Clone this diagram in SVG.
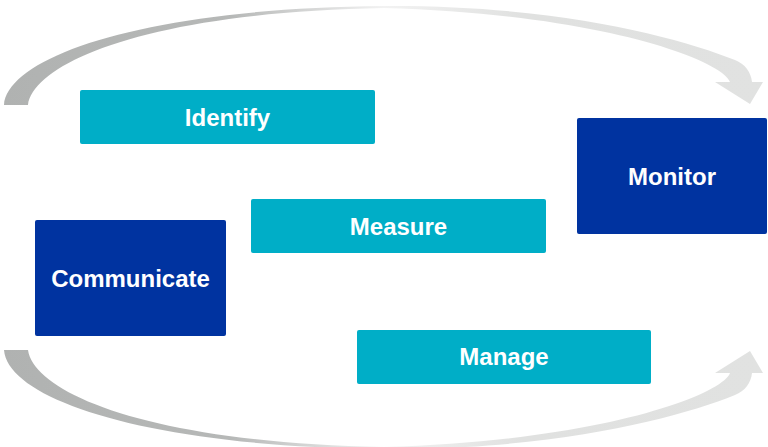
<svg xmlns="http://www.w3.org/2000/svg" width="768" height="447" viewBox="0 0 768 447">
<style>
.teal{fill:#00AEC7}
.navy{fill:#0033A0}
.lbl{font-family:"Liberation Sans",Arial,sans-serif;font-weight:bold;font-size:24px;fill:#FFFFFF;text-anchor:middle}
.arc{fill:url(#g)}
</style>
<defs>
<linearGradient id="g" gradientUnits="userSpaceOnUse" x1="0" y1="0" x2="768" y2="0">
<stop offset="0" stop-color="#B0B2B1"/>
<stop offset="0.3" stop-color="#B6B8B7"/>
<stop offset="0.5" stop-color="#F2F2F2"/>
<stop offset="0.68" stop-color="#E0E1E0"/>
<stop offset="1" stop-color="#E1E2E1"/>
</linearGradient>
<path id="arcShape" d="M4,105 C8,55 150,8 384,6 C560,5 680,38 735,60 C745,64 751,72 752,82 L763,82 L750,104 L715,82 L730,82 C722,60 600,14 384,8 C150,12 34,62 28,105 Z"/>
</defs>
<g id="connectors">
<use href="#arcShape" class="arc"/>
<use href="#arcShape" class="arc" transform="translate(0,455) scale(1,-1)"/>
</g>
<g id="identify">
<rect x="80" y="90" width="295" height="54" rx="2" class="teal"/>
<text x="227.5" y="126" class="lbl">Identify</text>
</g>
<g id="measure">
<rect x="251" y="199" width="295" height="54" rx="2" class="teal"/>
<text x="398.5" y="235" class="lbl">Measure</text>
</g>
<g id="manage">
<rect x="357" y="330" width="294" height="54" rx="2" class="teal"/>
<text x="504" y="365" class="lbl">Manage</text>
</g>
<g id="monitor">
<rect x="577" y="118" width="190" height="116" rx="2" class="navy"/>
<text x="672" y="185" class="lbl">Monitor</text>
</g>
<g id="communicate">
<rect x="35" y="220" width="191" height="116" rx="2" class="navy"/>
<text x="130.5" y="287" class="lbl">Communicate</text>
</g>
</svg>
